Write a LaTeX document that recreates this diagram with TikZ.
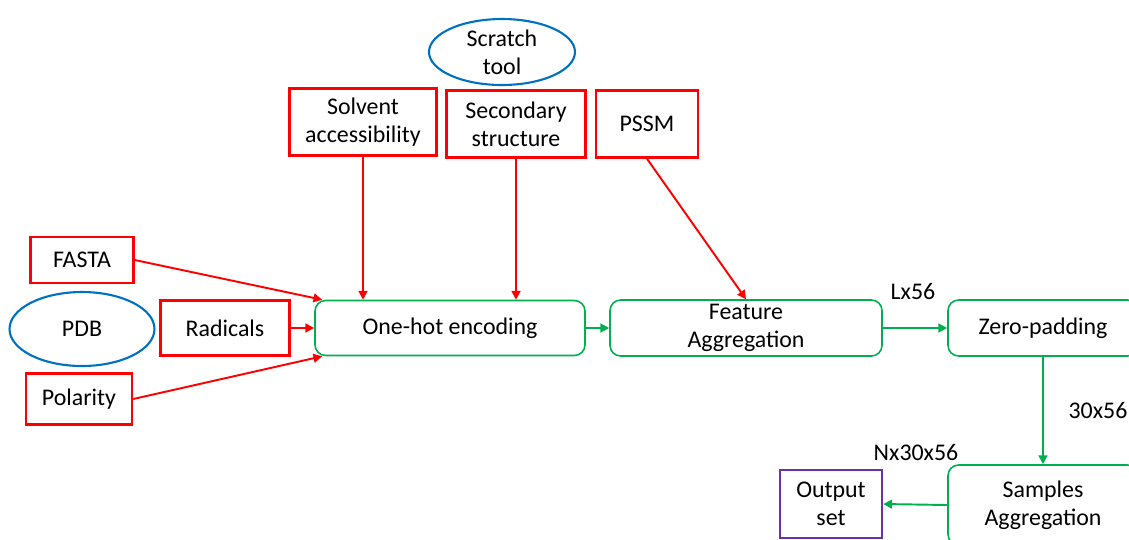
\documentclass[tikz,border=0pt]{standalone}
\usepackage{fontspec}
\setmainfont{Carlito}
\usetikzlibrary{arrows.meta,shapes.geometric}
\definecolor{rd}{RGB}{255,0,0}
\definecolor{gr}{RGB}{0,176,80}
\definecolor{bl}{RGB}{0,112,192}
\definecolor{pu}{RGB}{112,48,160}
\begin{document}
\begin{tikzpicture}[x=0.02cm,y=-0.02cm,
	font=\fontsize{13.6}{16}\selectfont,
	every node/.style={align=center,inner sep=0pt},
	src/.style={draw=rd,line width=1.4pt,rectangle},
	tool/.style={draw=bl,line width=1.2pt,ellipse},
	proc/.style={draw=gr,line width=0.9pt,rectangle,rounded corners=6pt},
	outb/.style={draw=pu,line width=1.4pt,rectangle},
	ra/.style={rd,line width=1.1pt,-{Triangle[length=5pt,width=5pt]}},
	ga/.style={gr,line width=1.1pt,-{Triangle[length=5pt,width=5pt]}}]
	\useasboundingbox (0,0) rectangle (1129,539);
	% inputs
	\node[tool,minimum width=2.92cm,minimum height=1.32cm] at (502,52) (st) {Scratch\\tool};
	\node[src,minimum width=2.94cm,minimum height=1.34cm] at (363,122) (sa) {Solvent\\accessibility};
	\node[src,minimum width=2.78cm,minimum height=1.34cm] at (516,124) (ss) {Secondary\\structure};
	\node[src,minimum width=2.04cm,minimum height=1.34cm] at (647,124) (pssm) {PSSM};
	\node[src,minimum width=2.06cm,minimum height=0.92cm] at (82,260) (fasta) {FASTA};
	\node[tool,minimum width=2.9cm,minimum height=1.48cm] at (82,329) (pdb) {PDB};
	\node[src,minimum width=2.58cm,minimum height=1.1cm] at (225,328) (rad) {Radicals};
	\node[src,minimum width=2.12cm,minimum height=1.02cm] at (79,399) (pol) {Polarity};
	% pipeline
	\node[proc,minimum width=5.4cm,minimum height=1.1cm] at (450,328) (oh) {One-hot encoding};
	\node[proc,minimum width=5.44cm,minimum height=1.12cm] at (746,328) (fa) {Feature\\Aggregation};
	\node[proc,minimum width=3.8cm,minimum height=1.12cm] at (1043,328) (zp) {Zero-padding};
	\node[proc,minimum width=3.8cm,minimum height=1.6cm] at (1043,505) (sag) {Samples\\Aggregation};
	\node[outb,minimum width=2.04cm,minimum height=1.36cm] at (831,504) (out) {Output\\set};
	% arrows
	\draw[ra] (fasta.east) -- ([xshift=0.16cm]oh.north west);
	\draw[ra] (rad.east) -- (oh.west);
	\draw[ra] (pol.east) -- ([xshift=0.16cm]oh.south west);
	\draw[ra] (sa.south) -- (sa.south |- oh.north);
	\draw[ra] (ss.south) -- (ss.south |- oh.north);
	\draw[ra] (pssm.south) -- (fa.north);
	\draw[ga] (oh.east) -- (fa.west);
	\draw[ga] (fa.east) -- (zp.west);
	\draw[ga] (zp.south) -- (sag.north);
	\draw[ga] (sag.west) -- (out.east);
	% sizes
	\node at (913,292) (l1) {Lx56};
	\node at (1098,411) (l2) {30x56};
	\node at (916,453) (l3) {Nx30x56};
\end{tikzpicture}
\end{document}
